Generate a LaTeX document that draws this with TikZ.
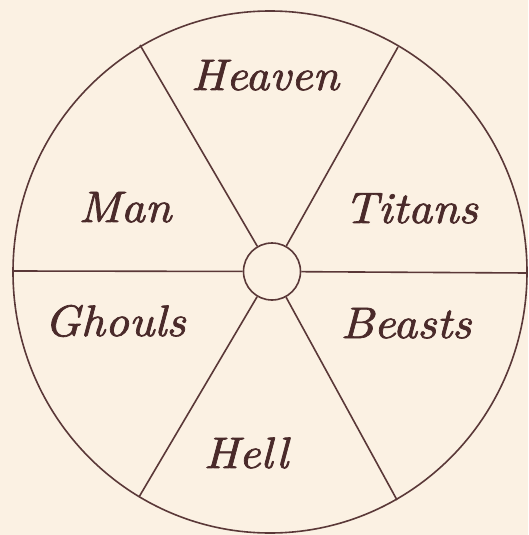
\documentclass[tikz,border=0pt]{standalone}
\usepackage{fontspec}
\usepackage{xcolor}
\newfontfamily\lblfont{lmroman10-italic.otf}[FakeBold=1.6,FakeStretch=1.07]
\definecolor{paper}{HTML}{FBF1E3}
\definecolor{ink}{HTML}{5A3838}
\definecolor{textink}{HTML}{4A2A2A}
\begin{document}
\begin{tikzpicture}[x=1pt,y=-1pt,
  wheel/.style={draw=ink,line width=1.6pt},
  lbl/.style={anchor=base,text=textink,inner sep=0pt,
    font=\lblfont\fontsize{44}{50}\selectfont}]
\fill[paper] (0,0) rectangle (528,535);
\useasboundingbox (0,0) rectangle (528,535);
\draw[wheel] (270,272) ellipse [x radius=257pt, y radius=261pt];
\node[wheel,circle,minimum size=57pt,inner sep=0pt] (hub) at (272,271.5) {};
\coordinate (tl) at (140,45);
\coordinate (tr) at (398,47);
\coordinate (bl) at (139,497);
\coordinate (br) at (397,500);
\coordinate (lf) at (13,271);
\coordinate (rt) at (527,273);
\foreach \p in {tl,tr,bl,br,lf,rt} \draw[wheel] (hub) -- (\p);
\node[lbl] (heaven) at (265,90) {Heaven};
\node[lbl] (man) at (125,222) {Man};
\node[lbl] (titans) at (411,223) {Titans};
\node[lbl] (ghouls) at (115,336) {Ghouls};
\node[lbl] (beasts) at (406,338) {Beasts};
\node[lbl] (hell) at (246,468) {Hell};
\end{tikzpicture}
\end{document}
